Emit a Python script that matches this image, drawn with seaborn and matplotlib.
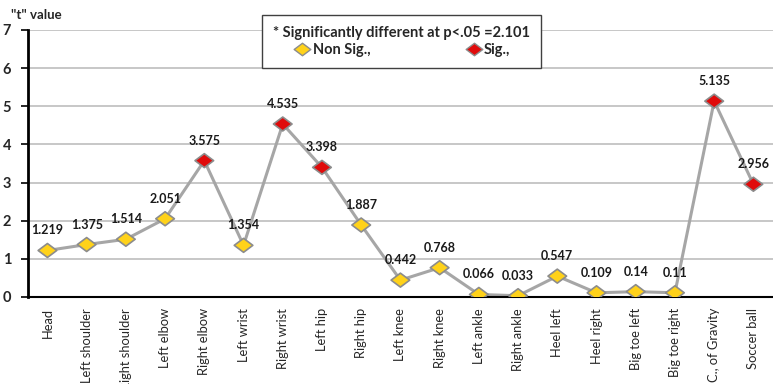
import numpy as np
import pandas as pd
import matplotlib
matplotlib.use("Agg")
import matplotlib.pyplot as plt
from matplotlib.path import Path
from matplotlib.lines import Line2D
import seaborn as sns

# Body landmarks and their t values
segments = ["Head", "Left shoulder", "Right shoulder", "Left elbow", "Right elbow",
            "Left wrist", "Right wrist", "Left hip", "Right hip", "Left knee",
            "Right knee", "Left ankle", "Right ankle", "Heel left", "Heel right",
            "Big toe left", "Big toe right", "C., of Gravity", "Soccer ball"]
t_values = [1.219, 1.375, 1.514, 2.051, 3.575, 1.354, 4.535, 3.398, 1.887, 0.442,
            0.768, 0.066, 0.033, 0.547, 0.109, 0.14, 0.11, 5.135, 2.956]
value_labels = ["1.219", "1.375", "1.514", "2.051", "3.575", "1.354", "4.535", "3.398",
                "1.887", "0.442", "0.768", "0.066", "0.033", "0.547", "0.109", "0.14",
                "0.11", "5.135", "2.956"]
critical_t = 2.101
y_ticks = [0, 1, 2, 3, 4, 5, 6, 7]

df = pd.DataFrame({"pos": np.arange(len(segments)), "t": t_values})
df["group"] = np.where(df["t"] > critical_t, "Sig.,", "Non Sig.,")

sns.set_theme(style="white")
plt.rcParams["font.family"] = ["Lato", "DejaVu Sans"]

fig = plt.figure(figsize=(7.73, 3.84), dpi=100)
ax = fig.add_axes([0.036, 0.2266, 0.964, 0.6953])

yellow = "#FFD21A"
red = "#E00B0B"
diamond = Path([(-1, 0), (0, 0.75), (1, 0), (0, -0.75), (-1, 0)],
               [Path.MOVETO, Path.LINETO, Path.LINETO, Path.LINETO, Path.CLOSEPOLY])

sns.lineplot(data=df, x="pos", y="t", color="#A6A6A6", linewidth=2.2, ax=ax,
             legend=False, zorder=2)
sns.scatterplot(data=df, x="pos", y="t", hue="group",
                palette={"Non Sig.,": yellow, "Sig.,": red},
                marker=diamond, s=180, edgecolor="#8C8C8C", linewidth=1.2,
                ax=ax, legend=False, zorder=3)

for i, (v, txt) in enumerate(zip(t_values, value_labels)):
    ax.annotate(txt, (i, v), xytext=(0, 20), textcoords="offset pixels",
                ha="center", va="center", fontsize=9, fontweight="bold", color="#1A1A1A")

ax.set_xlim(-0.5, len(segments) - 0.5)
ax.set_ylim(0, 7)
ax.set_yticks(y_ticks)
ax.set_yticklabels([str(t) for t in y_ticks], fontweight="bold", fontsize=10.5)
ax.set_xticks(np.arange(len(segments)))
ax.set_xticklabels(segments, rotation=90, fontsize=9.3, va="top")
ax.set_xticks(np.arange(len(segments) + 1) - 0.5, minor=True)
ax.tick_params(axis="x", which="major", length=0, pad=8)
ax.tick_params(axis="x", which="minor", length=5, width=1.2, color="black", direction="out")
ax.tick_params(axis="y", length=5, width=1.2, color="black", direction="out", pad=7,
               left=True)
ax.set_xlabel("")
ax.set_ylabel("")

ax.yaxis.grid(True, color="#BDBDBD", linewidth=1.2)
ax.set_axisbelow(True)
for side in ["top", "right"]:
    ax.spines[side].set_visible(False)
ax.spines["left"].set_color("black")
ax.spines["left"].set_linewidth(2)
ax.spines["bottom"].set_color("black")
ax.spines["bottom"].set_linewidth(1.5)

handles = [
    Line2D([], [], linestyle="none", marker=diamond, markersize=12,
           markerfacecolor=yellow, markeredgecolor="#8C8C8C", label="Non Sig.,"),
    Line2D([], [], linestyle="none", marker=diamond, markersize=12,
           markerfacecolor=red, markeredgecolor="#8C8C8C", label="Sig.,"),
]
leg = ax.legend(handles=handles, ncol=2, loc="center", bbox_to_anchor=(0.502, 0.956),
                title="* Significantly different at p<.05 =2.101",
                title_fontproperties={"weight": "bold", "size": 10.5},
                prop={"weight": "bold", "size": 10.5}, frameon=True, fancybox=False,
                edgecolor="#404040", framealpha=1, columnspacing=6.5,
                handletextpad=0.1, borderpad=0.75, handlelength=1.2, labelspacing=0.2)
leg.get_frame().set_linewidth(1)
leg.set_zorder(5)

fig.text(0.014, 0.962, "\"t\" value", fontsize=9.5, fontweight="bold", ha="left", va="center")

fig.savefig("out.png", dpi=100)
